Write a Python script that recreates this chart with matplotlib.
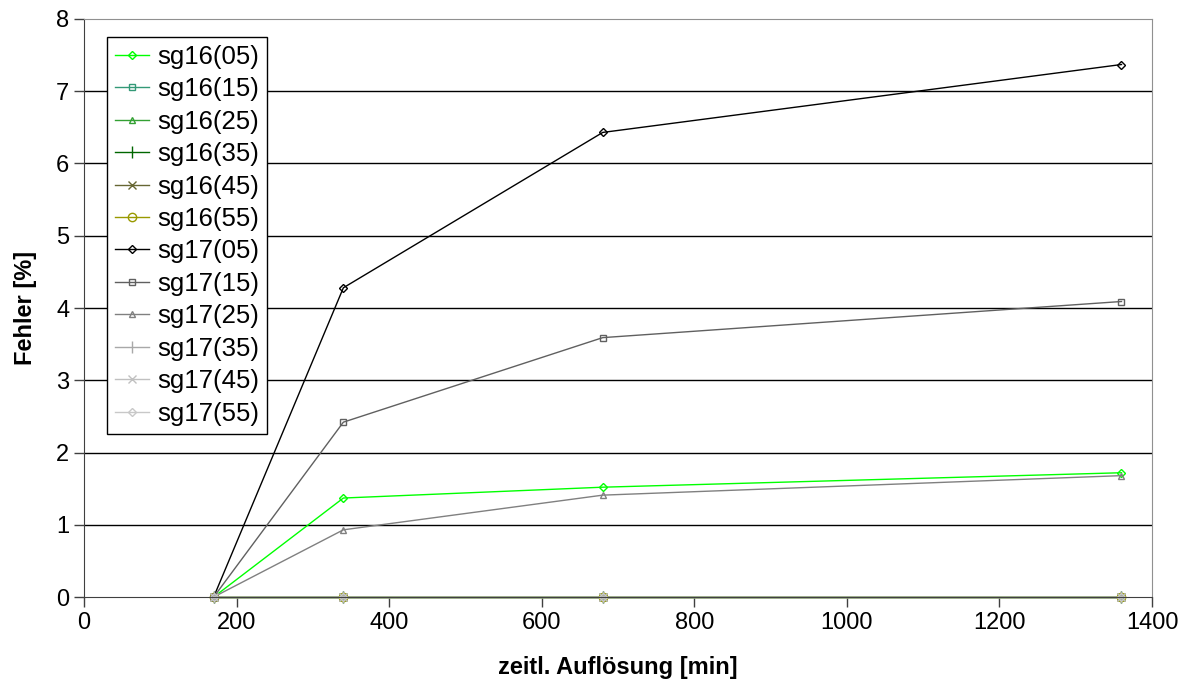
import matplotlib
matplotlib.use("Agg")
import matplotlib.pyplot as plt

plt.rcParams.update({
    'font.family': ['Liberation Sans', 'DejaVu Sans'],
    'font.size': 17,
    'lines.linewidth': 1.0,
})

x = [170, 340, 680, 1360]

labels = ['sg16(05)', 'sg16(15)', 'sg16(25)', 'sg16(35)', 'sg16(45)', 'sg16(55)',
          'sg17(05)', 'sg17(15)', 'sg17(25)', 'sg17(35)', 'sg17(45)', 'sg17(55)']

sg16_05 = [0, 1.37, 1.52, 1.72]
sg16_15 = [0, 0, 0, 0]
sg16_25 = [0, 0, 0, 0]
sg16_35 = [0, 0, 0, 0]
sg16_45 = [0, 0, 0, 0]
sg16_55 = [0, 0, 0, 0]
sg17_05 = [0, 4.28, 6.43, 7.37]
sg17_15 = [0, 2.42, 3.59, 4.09]
sg17_25 = [0, 0.93, 1.41, 1.68]
sg17_35 = [0, 0, 0, 0]
sg17_45 = [0, 0, 0, 0]
sg17_55 = [0, 0, 0, 0]

series = [sg16_05, sg16_15, sg16_25, sg16_35, sg16_45, sg16_55,
          sg17_05, sg17_15, sg17_25, sg17_35, sg17_45, sg17_55]

colors = ['#00FF00', '#339977', '#33A033', '#006600', '#666633', '#999900',
          '#000000', '#606060', '#808080', '#A8A8A8', '#C0C0C0', '#C8C8C8']
markers = ['D', 's', '^', '|', 'x', 'o', 'D', 's', '^', '|', 'x', 'D']
msizes = [4, 5, 5, 8, 6, 6, 4, 5, 5, 8, 6, 4]

fig = plt.figure(figsize=(11.88, 6.93), dpi=100)
ax = fig.add_axes([0.0707, 0.1385, 0.8990, 0.8341])

for y in range(1, 8):
    ax.axhline(y, color='black', linewidth=1.0, zorder=0)

for vals, lab, c, m, ms in zip(series, labels, colors, markers, msizes):
    ax.plot(x, vals, color=c, marker=m, markersize=ms, markerfacecolor='none',
            markeredgecolor=c, markeredgewidth=1.0, label=lab, clip_on=False)

ax.set_xlim(0, 1400)
ax.set_ylim(0, 8)
ax.set_xticks(range(0, 1401, 200))
ax.set_yticks(range(0, 9))

ax.spines['left'].set_color('#404040')
ax.spines['bottom'].set_color('#404040')
ax.spines['top'].set_color('#909090')
ax.spines['right'].set_color('#909090')
ax.tick_params(direction='out', length=7, width=1, colors='#404040', labelcolor='black')

ax.set_xlabel('zeitl. Auflösung [min]', fontweight='bold', labelpad=16)
ax.set_ylabel('Fehler [%]', fontweight='bold', labelpad=14)

leg = ax.legend(loc='upper left', bbox_to_anchor=(0.0215, 0.969), borderaxespad=0,
                fancybox=False, edgecolor='black', framealpha=1, fontsize=18.5,
                handlelength=1.35, handletextpad=0.3, labelspacing=0.33,
                borderpad=0.3)
leg.get_frame().set_linewidth(1.0)

fig.savefig('out.png', dpi=100)
